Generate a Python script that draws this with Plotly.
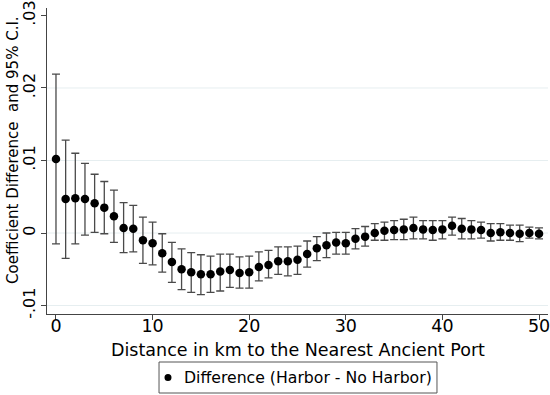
import plotly.graph_objects as go

distance = list(range(0, 51))
coef = [0.0102, 0.0047, 0.0048, 0.0047, 0.0041, 0.0035, 0.0023, 0.0007, 0.0006, -0.0010,
        -0.0014, -0.0028, -0.0040, -0.0050, -0.0054, -0.0057, -0.0057, -0.0053, -0.0051, -0.0055,
        -0.0054, -0.0047, -0.0044, -0.0039, -0.0039, -0.0037, -0.0029, -0.0021, -0.0017, -0.0013,
        -0.0014, -0.0008, -0.0005, 0.0000, 0.0003, 0.0004, 0.0005, 0.0007, 0.0005, 0.0004,
        0.0005, 0.0010, 0.0006, 0.0005, 0.0004, 0.0000, 0.0001, 0.0000, -0.0001, 0.0000,
        -0.0001]
ci_high = [0.0219, 0.0128, 0.0110, 0.0096, 0.0081, 0.0071, 0.0059, 0.0042, 0.0038, 0.0022,
           0.0015, -0.0001, -0.0013, -0.0022, -0.0027, -0.0030, -0.0032, -0.0029, -0.0029, -0.0033,
           -0.0032, -0.0026, -0.0024, -0.0019, -0.0019, -0.0018, -0.0011, -0.0005, 0.0000, 0.0001,
           0.0001, 0.0006, 0.0009, 0.0013, 0.0015, 0.0017, 0.0019, 0.0022, 0.0017, 0.0017,
           0.0017, 0.0022, 0.0020, 0.0017, 0.0015, 0.0013, 0.0013, 0.0011, 0.0011, 0.0008,
           0.0007]
ci_low = [-0.0015, -0.0035, -0.0015, -0.0003, 0.0001, -0.0001, -0.0013, -0.0027, -0.0026, -0.0042,
          -0.0044, -0.0054, -0.0068, -0.0078, -0.0082, -0.0085, -0.0082, -0.0080, -0.0075, -0.0076,
          -0.0076, -0.0066, -0.0062, -0.0057, -0.0059, -0.0057, -0.0047, -0.0038, -0.0034, -0.0029,
          -0.0029, -0.0022, -0.0018, -0.0010, -0.0010, -0.0009, -0.0009, -0.0008, -0.0008, -0.0010,
          -0.0008, -0.0003, -0.0008, -0.0008, -0.0007, -0.0011, -0.0010, -0.0010, -0.0012, -0.0007,
          -0.0008]

series_name = "Difference (Harbor - No Harbor)"
x_title = "Distance in km to the Nearest Ancient Port"
y_title = "Coefficient Difference  and 95% C.I."
y_tickvals = [-0.01, 0, 0.01, 0.02, 0.03]
y_ticktext = ["-.01", "0", ".01", ".02", ".03"]
grid_vals = [-0.01, 0, 0.01, 0.02]
x_tickvals = [0, 10, 20, 30, 40, 50]

err_plus = [h - c for h, c in zip(ci_high, coef)]
err_minus = [c - l for c, l in zip(coef, ci_low)]

fig = go.Figure()
fig.add_trace(go.Scatter(
    x=distance, y=coef, mode="markers",
    name=series_name, showlegend=False,
    marker=dict(color="black", size=8.5),
    error_y=dict(type="data", symmetric=False, array=err_plus, arrayminus=err_minus,
                 color="#4a4a4a", thickness=1.3, width=4),
))

shapes = []
for g in grid_vals:
    shapes.append(dict(type="line", xref="paper", yref="y", x0=0, x1=1, y0=g, y1=g,
                       line=dict(color="#e6eef0", width=1), layer="below"))

# legend box (drawn manually, Stata style)
shapes.append(dict(type="rect", xref="paper", yref="paper",
                   x0=0.2236, x1=0.7784, y0=-0.2582, y1=-0.1569,
                   line=dict(color="#555", width=1), fillcolor="white"))
shapes.append(dict(type="circle", xref="paper", yref="paper",
                   xsizemode="pixel", ysizemode="pixel",
                   xanchor=0.2415, yanchor=-0.2075, x0=-3.5, x1=3.5, y0=-3.5, y1=3.5,
                   fillcolor="black", line=dict(color="black", width=0)))

annotations = [
    dict(text=series_name, xref="paper", yref="paper", x=0.2695, y=-0.2075,
         xanchor="left", yanchor="middle", showarrow=False,
         font=dict(size=15.7, color="black")),
    dict(text=x_title, xref="paper", yref="paper", x=0.5, y=-0.1176,
         xanchor="center", yanchor="middle", showarrow=False,
         font=dict(size=17.5, color="black")),
    dict(text=y_title, xref="paper", yref="paper", x=-0.0679, y=0.536,
         xanchor="center", yanchor="middle", showarrow=False, textangle=-90,
         font=dict(size=15, color="black")),
]

fig.update_layout(
    width=550, height=395,
    margin=dict(l=47, r=2, t=8, b=81, autoexpand=False),
    paper_bgcolor="white", plot_bgcolor="white",
    font=dict(family="DejaVu Sans", color="black", size=15),
    shapes=shapes, annotations=annotations,
    showlegend=False,
    xaxis=dict(range=[-0.93, 50.93], tickvals=x_tickvals, showgrid=False, zeroline=False,
               showline=True, linecolor="#444", linewidth=1, ticks="outside", ticklen=5,
               tickcolor="#444", tickfont=dict(size=17.5), automargin=False,
               ticklabeloverflow="allow", ticklabelstandoff=-9),
    yaxis=dict(range=[-0.01117, 0.03103], tickvals=y_tickvals, ticktext=y_ticktext,
               tickangle=-90, showgrid=False, zeroline=False,
               showline=True, linecolor="#444", linewidth=1, ticks="outside", ticklen=5,
               tickcolor="#444", tickfont=dict(size=16), automargin=False,
               ticklabeloverflow="allow"),
)

fig.write_html("out.html", config={"displayModeBar": False},
               post_script="document.body.style.margin='0';document.body.style.padding='0';")
